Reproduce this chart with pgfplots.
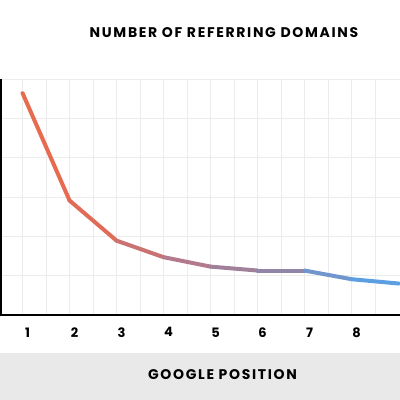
\documentclass[border=0pt]{standalone}
\usepackage{pgfplots}
\pgfplotsset{compat=1.18}
\usepackage{fontspec}
\setmainfont{Poppins}
\newfontfamily\capsfont[LetterSpace=12]{Poppins}

\definecolor{gridgray}{HTML}{ECECEC}
\definecolor{bandgray}{HTML}{E9E9E9}

\pgfplotstableread{
pos domains
1 5.64
2 2.91
3 1.89
4 1.47
5 1.23
6 1.13
7 1.13
8 0.91
9 0.80
}\domains

\begin{document}
\begin{tikzpicture}
\useasboundingbox (0pt,0pt) rectangle (400pt,400pt);
\fill[bandgray] (0pt,0pt) rectangle (400pt,47pt);
\node[font=\capsfont\bfseries\fontsize{14}{14}\selectfont] at (224pt,367pt) {NUMBER OF REFERRING DOMAINS};
\node[font=\capsfont\bfseries\fontsize{14}{14}\selectfont] at (222.5pt,25pt) {GOOGLE POSITION};
\begin{axis}[name=ax,
             at={(0pt,85pt)}, anchor=south west,
             scale only axis,
             width=400pt, height=236pt,
             xmin=0.52, xmax=9.03,
             ymin=0, ymax=6,
             xtick={1,...,8},
             minor xtick={1.5,2.5,...,8.5},
             ytick={1,...,6},
             yticklabels={},
             grid=both,
             grid style={gridgray, line width=0.8pt},
             minor grid style={gridgray, line width=0.8pt},
             major tick length=0, minor tick length=0,
             axis line style={draw=none},
             /pgf/number format/assume math mode=true,
             xticklabel style={font=\bfseries\fontsize{13}{13}\selectfont, yshift=-9pt, xshift=5pt},
             colormap={orangeblue}{rgb255(0)=(233,106,75) rgb255(1.5)=(224,108,88)
               rgb255(3.5)=(178,122,140) rgb255(5.5)=(145,134,168) rgb255(6.5)=(112,150,205) rgb255(7.5)=(92,158,226) rgb255(8)=(92,158,226)},
             point meta min=1, point meta max=9]
  \addplot[mesh, point meta=x, line width=4pt, line cap=round] table[x=pos, y=domains] {\domains};
\end{axis}
\draw[black, line width=2.7pt] (ax.south west) -- (ax.south east);
\draw[black, line width=2pt] ([xshift=1pt]ax.south west) -- ([xshift=1pt]ax.north west);
\end{tikzpicture}
\end{document}
